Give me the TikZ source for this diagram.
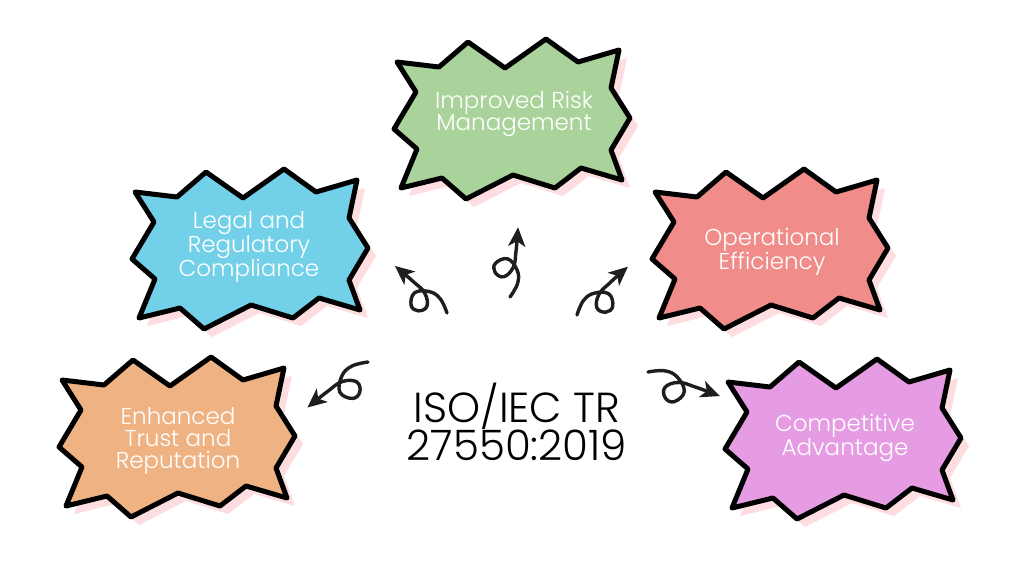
\documentclass[tikz,border=0pt]{standalone}
\usepackage{fontspec}
\IfFontExistsTF{Poppins Light}{\setmainfont{Poppins Light}}{\setmainfont{Poppins}}
\usepackage{xcolor}
\usepackage{tikz}
\usetikzlibrary{arrows.meta}
\definecolor{greenx}{HTML}{A9D39A}
\definecolor{bluex}{HTML}{73D0E9}
\definecolor{redx}{HTML}{F08C89}
\definecolor{orangex}{HTML}{EEB283}
\definecolor{purplex}{HTML}{E59CE3}
\definecolor{shadowx}{HTML}{FDDDE0}
\definecolor{inkx}{HTML}{1E1E1E}
\def\burstpath{(-114,-56) -- (-72,-51) -- (-43,-76) -- (-6,-50) -- (35,-79) -- (67,-56)
  -- (108,-68) -- (100,-30) -- (119,0) -- (100,32) -- (111,62) -- (70,50) -- (44,70)
  -- (2,57) -- (-45,81) -- (-69,60) -- (-110,70) -- (-94,31) -- (-117,11) -- (-95,-26) -- cycle}
\newcommand\burst[2]{%
  \fill[shadowx,shift={(#2)},shift={(8,8)}] \burstpath;
  \draw[line width=5pt,line join=round,draw=black,fill=#1,shift={(#2)}] \burstpath;}
\tikzset{
  curly/.pic={
    \draw[line width=3.4pt,inkx,line cap=round,-{Stealth[length=19pt,width=17pt,inset=5pt]}]
      plot[smooth,tension=0.7] coordinates {(0,0) (7,-14) (6,-27) (-4,-38) (-16,-33)
        (-16,-24) (-7,-20) (2,-30) (4,-46) (5,-70)};
  },
  lbl/.style={text=white,align=center,font=\fontsize{23}{22}\selectfont,inner sep=0pt},
  iso/.style={text=black,align=center,font=\fontsize{42}{32}\selectfont,inner sep=0pt}
}

\begin{document}
\begin{tikzpicture}[x=1pt,y=-1pt]
\useasboundingbox[fill=white] (0,0) rectangle (1024,576);
% bursts
\burst{greenx}{511,118}
\burst{bluex}{249,248}
\burst{redx}{769,248}
\burst{orangex}{176,436}
\burst{purplex}{842,438}
% labels
\node[lbl] (risk) at (514,114) {Improved Risk\\Management};
\node[lbl] (legal) at (249,247) {Legal and\\Regulatory\\Compliance};
\node[lbl] (oper) at (772,252) {Operational\\Efficiency};
\node[lbl] (trust) at (178,441) {Enhanced\\Trust and\\Reputation};
\node[lbl] (comp) at (845,438) {Competitive\\Advantage};
\node[iso] (std) at (517,422) {ISO/IEC TR\\27550:2019};
% curly arrows
\pic[rotate=-2.5] at (510,297) {curly};
\pic[rotate=52] at (447,313) {curly};
\pic[rotate=131,scale=1.08] at (368,362) {curly};
\pic[rotate=-50.6,xscale=-1] at (577,315) {curly};
\pic[rotate=-112.6,xscale=-1,scale=1.08] at (648,372) {curly};
\end{tikzpicture}
\end{document}
